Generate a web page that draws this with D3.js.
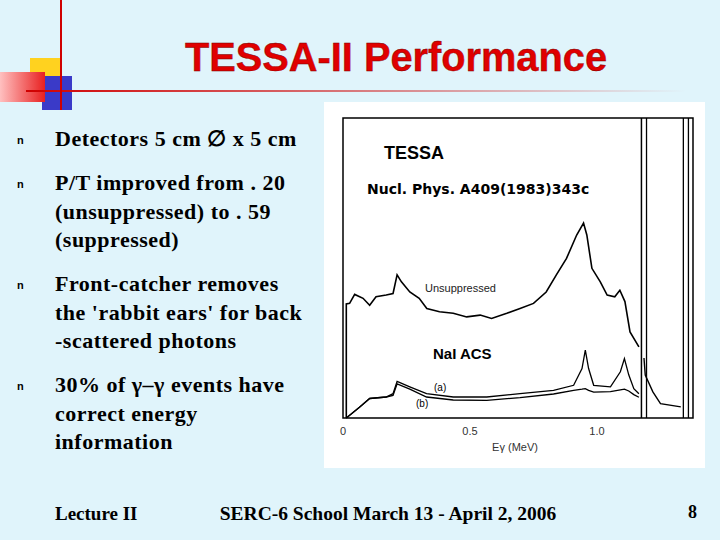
<!DOCTYPE html><html><head><meta charset="utf-8">
<script src="https://cdn.jsdelivr.net/npm/d3@7"></script>
<style>body{margin:0;background:#e0f4fb}svg{display:block}</style></head><body>
<script>
const xTicks=[0,0.5,1.0];
const tickLabels=["0","0.5","1.0"];
const unsupE=[0.013,0.013,0.026,0.046,0.079,0.105,0.13,0.17,0.197,0.213,0.23,0.263,0.30,0.33,0.38,0.434,0.487,0.54,0.585,0.645,0.697,0.75,0.80,0.84,0.88,0.92,0.947,0.96,0.98,1.013,1.04,1.07,1.09,1.11,1.13,1.165];
const unsupV=[0,38,38.2,41.2,39.9,37.6,40.4,41,41.5,47.7,45.4,42,39.9,36.5,35.4,34.9,33.7,34.3,33.2,34.9,36.5,38.2,42,47.7,53.2,61,65,61,49.9,45.4,41,40.4,42.6,38.8,28.7,23.7];
const tailE=[1.185,1.19,1.22,1.25,1.33];
const tailV=[20,14.3,8.7,4.8,3.7];
const acsE=[0.013,0.066,0.105,0.17,0.197,0.213,0.263,0.329,0.434,0.566,0.697,0.829,0.908,0.941,0.954,0.967,0.987,1.053,1.092,1.108,1.125,1.145,1.165];
const aV=[0,3.7,6.5,7,8.1,12.2,10.4,8.1,7,7,8.1,9.2,10.9,16.5,22.6,16.5,10.9,10.4,15.4,19.8,14.4,9.8,8.1];
const bV=[0,3.7,6.5,7,7.5,11.4,9.6,7,6,5.9,6.8,8,9.2,9.6,9.8,9.2,8.6,8.8,9.4,9.6,9,7.8,6.9];
const bullets=[["Detectors 5 cm \u2205 x 5 cm"],["P/T improved from . 20","(unsuppressed) to . 59","(suppressed)"],["Front-catcher removes","the 'rabbit ears' for back","-scattered photons"],["30% of \u03b3\u2013\u03b3 events have","correct energy","information"]];
const bulletY=[139,183,284,385];

const svg=d3.select("body").append("svg").attr("width",720).attr("height",540);
svg.append("rect").attr("x",30).attr("y",58).attr("width",30).attr("height",30).attr("fill","#ffd21f");
svg.append("rect").attr("x",42).attr("y",76).attr("width",30).attr("height",34).attr("fill","#3a3ac8");
const g1=svg.append("defs").append("linearGradient").attr("id","lg");
g1.append("stop").attr("offset","0").attr("stop-color","#ffc0c0");g1.append("stop").attr("offset","1").attr("stop-color","#e82020");
svg.append("rect").attr("x",0).attr("y",72).attr("width",45).attr("height",30).attr("fill","url(#lg)");
const g2=svg.select("defs").append("linearGradient").attr("id","lg2");
g2.append("stop").attr("offset","0").attr("stop-color","#d00000");g2.append("stop").attr("offset","1").attr("stop-color","#e0f4fb");
svg.append("rect").attr("x",26).attr("y",90).attr("width",660).attr("height",2).attr("fill","url(#lg2)");
svg.append("rect").attr("x",60).attr("y",0).attr("width",2).attr("height",110).attr("fill","#d00000");
svg.append("text").attr("x",185).attr("y",71).attr("textLength",422).attr("lengthAdjust","spacingAndGlyphs").attr("font-family","Liberation Sans").attr("font-weight","bold").attr("font-size",40).attr("fill","#e00000").attr("stroke","#700").attr("stroke-width",0.4).text("TESSA-II Performance");
bullets.forEach((b,i)=>{
  svg.append("text").attr("x",17).attr("y",bulletY[i]+5).attr("font-family","Liberation Sans").attr("font-weight","bold").attr("font-size",11).text("n");
  b.forEach((l,j)=>svg.append("text").attr("x",55).attr("y",bulletY[i]+7+j*28.5).attr("font-family","Liberation Serif").attr("font-weight","bold").attr("font-size",22).attr("letter-spacing",0.5).text(l));
});
svg.append("text").attr("x",55).attr("y",520).attr("font-family","Liberation Serif").attr("font-weight","bold").attr("font-size",19).text("Lecture II");
svg.append("text").attr("x",388).attr("y",520).attr("text-anchor","middle").attr("font-family","Liberation Serif").attr("font-weight","bold").attr("font-size",19.5).text("SERC-6 School March 13 - April 2, 2006");
svg.append("text").attr("x",688).attr("y",518).attr("font-family","Liberation Serif").attr("font-weight","bold").attr("font-size",18).text("8");
svg.append("rect").attr("x",324).attr("y",102).attr("width",381).attr("height",366).attr("fill","#fff");
const x=d3.scaleLinear().domain([0,1.378]).range([343,693]);
const y=d3.scaleLinear().domain([0,100]).range([418,118]);
svg.append("path").attr("d",`M${x(1.175)},${y(0)}V${y(100)}H${x(0)}V${y(0)}H${x(1.378)}V${y(100)}H${x(1.175)}`).attr("fill","none").attr("stroke","#000").attr("stroke-width",1.5);
[1.195,1.34,1.36].forEach(v=>svg.append("line").attr("x1",x(v)).attr("x2",x(v)).attr("y1",y(0)).attr("y2",y(100)).attr("stroke","#000").attr("stroke-width",1.3));
const line=d3.line().x(d=>x(d[0])).y(d=>y(d[1]));
const st=(p,w)=>p.attr("fill","none").attr("stroke","#000").attr("stroke-width",w);
st(svg.append("path").attr("d",line(d3.zip(unsupE,unsupV))),1.6);
st(svg.append("path").attr("d",line(d3.zip(tailE,tailV))),1.4);
st(svg.append("path").attr("d",line(d3.zip(acsE,aV))),1.3);
st(svg.append("path").attr("d",line(d3.zip(acsE,bV))),1.3);
xTicks.forEach((t,i)=>svg.append("text").attr("x",x(t)).attr("y",435).attr("text-anchor","middle").attr("font-family","Liberation Sans").attr("font-size",11).attr("fill","#333").text(tickLabels[i]));
svg.append("text").attr("x",515).attr("y",451).attr("text-anchor","middle").attr("font-family","Liberation Sans").attr("font-size",11).attr("fill","#333").text("E\u03b3 (MeV)");
const lab=(t,xx,yy,s,w,f)=>svg.append("text").attr("x",xx).attr("y",yy).attr("font-family",f||"Liberation Sans").attr("font-weight",w).attr("font-size",s).text(t);
lab("TESSA",384,159,18,"bold");
lab("Nucl. Phys. A409(1983)343c",367,194,14,"bold","DejaVu Sans");
lab("Unsuppressed",425,292,11,"normal").attr("fill","#222");
lab("NaI ACS",433,359,15,"bold");
lab("(a)",434,391,10,"normal");
lab("(b)",416,407,10,"normal");
</script></body></html>
